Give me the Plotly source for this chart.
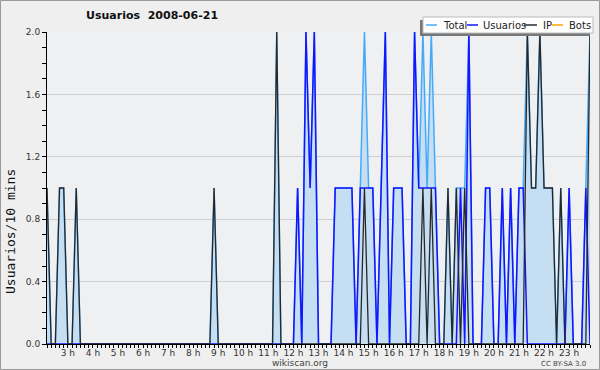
import pandas as pd
import plotly.graph_objects as go

# 10-minute bins, 2008-06-21 02:10 .. 23:50
times = pd.date_range("2008-06-21 02:10", periods=131, freq="10min")

total = [1,0,0,1,1,0,0,1,0,0,
         0,0,0,0,0,0,0,0,0,0,
         0,0,0,0,0,0,0,0,0,0,
         0,0,0,0,0,0,0,0,0,0,
         1,0,0,0,0,0,0,0,0,0,
         0,0,0,0,0,2,0,0,0,0,
         1,0,2,1,2,0,0,0,0,1,
         1,1,1,1,0,1,2,1,1,0,
         1,2,0,1,1,1,0,0,2,1,
         2,1,2,1,0,0,1,0,1,1,
         1,2,0,0,0,1,1,0,0,1,
         0,1,0,1,1,2,1,1,2,1,
         1,1,0,1,0,1,0,0,0,1,
         2]
usuarios = [0,0,0,0,0,0,0,0,0,0,
            0,0,0,0,0,0,0,0,0,0,
            0,0,0,0,0,0,0,0,0,0,
            0,0,0,0,0,0,0,0,0,0,
            0,0,0,0,0,0,0,0,0,0,
            0,0,0,0,0,0,0,0,0,0,
            1,0,2,1,2,0,0,0,0,1,
            1,1,1,1,0,1,1,1,1,0,
            1,2,0,1,1,1,0,0,2,1,
            1,1,1,1,0,0,0,0,0,1,
            0,2,0,0,0,1,1,0,0,1,
            0,1,0,1,1,0,0,0,0,0,
            0,0,0,0,0,1,0,0,0,1,
            0]
ip = [1,0,0,1,1,0,0,1,0,0,
      0,0,0,0,0,0,0,0,0,0,
      0,0,0,0,0,0,0,0,0,0,
      0,0,0,0,0,0,0,0,0,0,
      1,0,0,0,0,0,0,0,0,0,
      0,0,0,0,0,2,0,0,0,0,
      0,0,0,0,0,0,0,0,0,0,
      0,0,0,0,0,0,1,0,0,0,
      0,0,0,0,0,0,0,0,0,0,
      1,0,1,0,0,0,1,0,1,0,
      1,0,0,0,0,0,0,0,0,0,
      0,0,0,0,0,2,1,1,2,1,
      1,1,0,1,0,0,0,0,0,0,
      2]
bots = [0,0,0,0,0,0,0,0,0,0,
        0,0,0,0,0,0,0,0,0,0,
        0,0,0,0,0,0,0,0,0,0,
        0,0,0,0,0,0,0,0,0,0,
        0,0,0,0,0,0,0,0,0,0,
        0,0,0,0,0,0,0,0,0,0,
        0,0,0,0,0,0,0,0,0,0,
        0,0,0,0,0,0,0,0,0,0,
        0,0,0,0,0,0,0,0,0,0,
        0,0,0,0,0,0,0,0,0,0,
        0,0,0,0,0,0,0,0,0,0,
        0,0,0,0,0,0,0,0,0,0,
        0,0,0,0,0,0,0,0,0,0,
        0]

hour_ticks = [f"2008-06-21 {h:02d}:00" for h in range(3, 24)]
hour_labels = [f"{h} h" for h in range(3, 24)]
y_ticks = [0.0, 0.4, 0.8, 1.2, 1.6, 2.0]

series_names = ["Total", "Usuarios", "IP", "Bots"]
series_colors = ["rgb(70,170,250)", "rgb(20,20,255)", "rgb(40,40,40)", "rgb(255,165,0)"]

W, H = 600, 370
L, R, T, B = 47, 10, 32, 26
PW, PH = W - L - R, H - T - B

def px(x):
    return (x - L) / PW

def py(y):
    return (H - B - y) / PH

fig = go.Figure()
fig.add_trace(go.Scatter(x=times, y=bots, mode="lines",
                         line=dict(color=series_colors[3], width=1), showlegend=False))
fig.add_trace(go.Scatter(x=times, y=total, mode="lines", fill="tozeroy",
                         fillcolor="rgb(198,222,242)",
                         line=dict(color=series_colors[0], width=1.5), showlegend=False))
fig.add_trace(go.Scatter(x=times, y=usuarios, mode="lines",
                         line=dict(color=series_colors[1], width=1.5), showlegend=False))
fig.add_trace(go.Scatter(x=times, y=ip, mode="lines",
                         line=dict(color=series_colors[2], width=1.3), showlegend=False))

shapes = []
annotations = []
# outer border
shapes.append(dict(type="rect", xref="paper", yref="paper", x0=px(0.5), x1=px(599.5),
                   y0=py(0.5), y1=py(369.5), line=dict(color="#999", width=1), layer="below"))
# legend shadow and box
shapes.append(dict(type="rect", xref="paper", yref="paper", x0=px(420), x1=px(590),
                   y0=py(20), y1=py(36), fillcolor="rgb(120,120,120)", line=dict(width=0)))
shapes.append(dict(type="rect", xref="paper", yref="paper", x0=px(423), x1=px(593),
                   y0=py(17), y1=py(33), fillcolor="white", line=dict(color="#bbb", width=1)))
sample_x = [(426, 437), (467, 478), (524, 537), (552, 563)]
text_x = [441, 481, 541, 567]
for name, col, (a, b), tx in zip(series_names, series_colors, sample_x, text_x):
    shapes.append(dict(type="line", xref="paper", yref="paper", x0=px(a), x1=px(b),
                       y0=py(25), y1=py(25), line=dict(color=col, width=1.5)))
    annotations.append(dict(text=name, xref="paper", yref="paper", x=px(tx), y=py(25),
                            xanchor="left", yanchor="middle", showarrow=False,
                            font=dict(family="DejaVu Sans", size=10, color="#222")))

annotations.append(dict(text="<b>Usuarios  2008-06-21</b>", xref="paper", yref="paper",
                        x=px(84), y=py(16), xanchor="left", yanchor="middle", showarrow=False,
                        font=dict(family="DejaVu Sans", size=11, color="#111")))
annotations.append(dict(text="Usuarios/10 mins", xref="paper", yref="paper",
                        x=px(11), y=py(232), xanchor="center", yanchor="middle", showarrow=False,
                        textangle=-90,
                        font=dict(family="DejaVu Sans Mono", size=13, color="#111")))
annotations.append(dict(text="wikiscan.org", xref="paper", yref="paper",
                        x=px(300), y=py(363), xanchor="center", yanchor="middle", showarrow=False,
                        font=dict(family="DejaVu Sans", size=9, color="#444")))
annotations.append(dict(text="CC BY-SA 3.0", xref="paper", yref="paper",
                        x=px(588), y=py(364), xanchor="right", yanchor="middle", showarrow=False,
                        font=dict(family="DejaVu Sans", size=7, color="#444")))

fig.update_layout(
    width=W, height=H,
    margin=dict(l=L, r=R, t=T, b=B, pad=0, autoexpand=False),
    paper_bgcolor="#efefef", plot_bgcolor="#eff0f2",
    shapes=shapes, annotations=annotations,
    showlegend=False,
    xaxis=dict(type="date", range=[times[0], times[-1]], automargin=False,
               tickvals=hour_ticks, ticktext=hour_labels,
               ticks="outside", ticklen=3, tickcolor="black", tickwidth=1,
               ticklabelstandoff=-3,
               minor=dict(dtick=600000, ticks="outside", ticklen=3, tickcolor="black"),
               showline=True, linecolor="black", linewidth=1,
               showgrid=False, zeroline=False,
               tickfont=dict(family="DejaVu Sans", size=9, color="#333")),
    yaxis=dict(range=[0, 2], tickvals=y_ticks, tickformat=".1f", automargin=False,
               ticks="outside", ticklen=4, tickcolor="black",
               minor=dict(dtick=0.1, ticks="outside", ticklen=4, tickcolor="black", showgrid=False),
               showline=True, linecolor="black", linewidth=1,
               showgrid=True, gridcolor="#cfcfcf", gridwidth=1, zeroline=False,
               tickfont=dict(family="DejaVu Sans", size=9, color="#333")),
)

fig.write_html("out.html", config={"displayModeBar": False},
               post_script="document.body.style.margin='0';document.body.style.overflow='hidden';")
